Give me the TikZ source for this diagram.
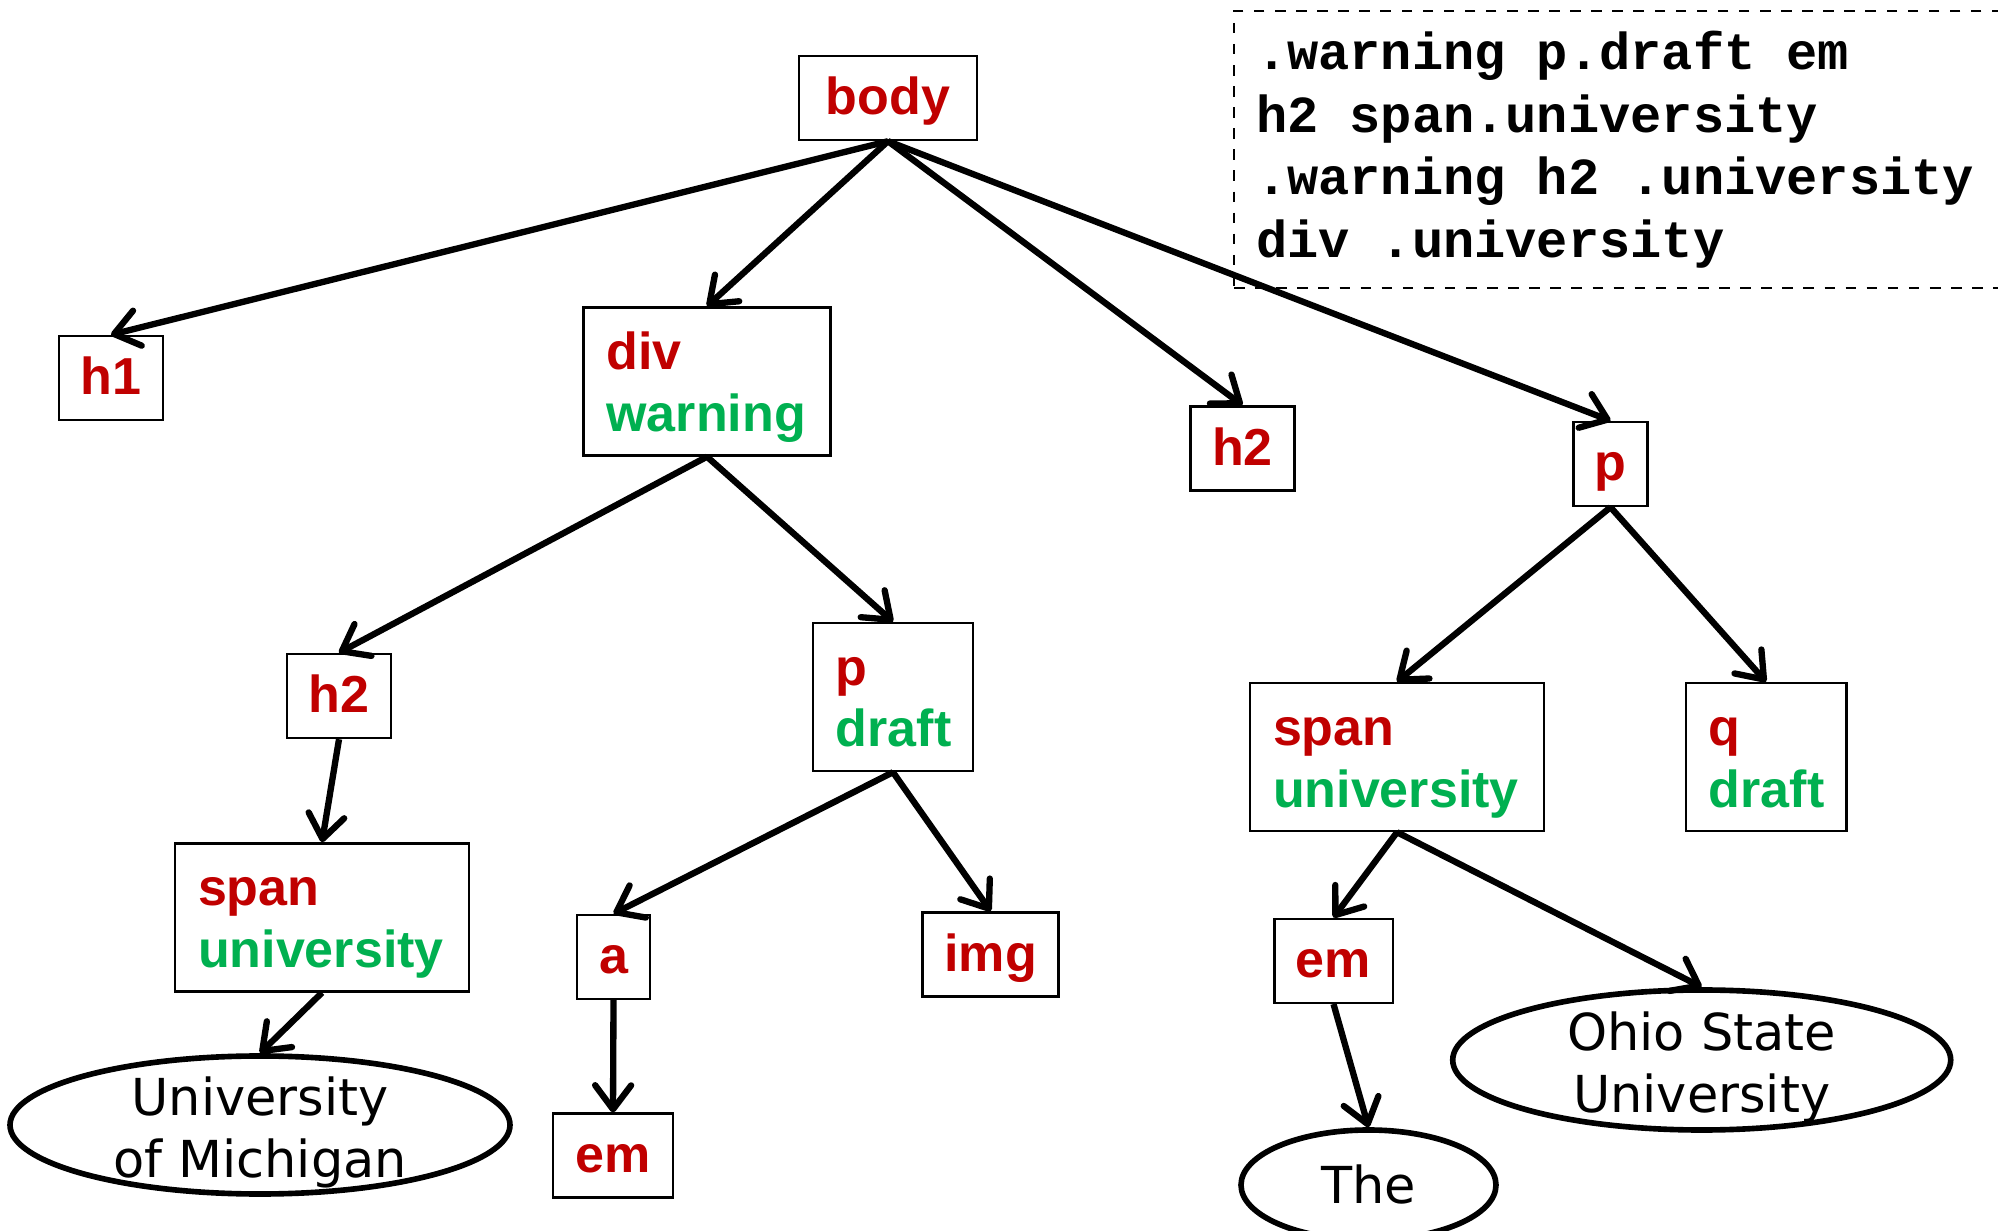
\documentclass[tikz,border=0pt]{standalone}
\usepackage{fontspec}
\setsansfont{Liberation Sans}
\setmonofont{Liberation Mono}
\newfontfamily\leaffont{DejaVu Sans}
\usetikzlibrary{arrows.meta}
\usetikzlibrary{shapes.geometric}
\definecolor{tagRed}{HTML}{C00000}
\definecolor{classGreen}{HTML}{00B050}
\newcommand{\tg}[1]{\textcolor{tagRed}{#1}}
\newcommand{\cls}[1]{\textcolor{classGreen}{#1}}
\newcommand{\gap}{\hphantom{x}}
\tikzset{%
  >={Straight Barb[round,length=2.4mm,width=3.6mm]},
  % Specifications for style of nodes:
        base/.style = {rectangle, draw=black, line width=0.7pt,
                       minimum height=0.84cm, inner sep=0pt,
                       font=\sffamily\bfseries\fontsize{14.8}{17.5}\selectfont},
         tag/.style = {base, text=tagRed, text height=0.34cm, text depth=0cm},
    tagClass/.style = {base, minimum height=1.48cm, inner xsep=0.23cm,
                       align=left, text height=0.383cm, text depth=0.613cm},
        leaf/.style = {ellipse, draw=black, line width=1.6pt,
                       inner xsep=0pt, inner ysep=-2mm, align=center,
                       text height=1.046cm, text depth=0cm,
                       font=\leaffont\fontsize{14.5}{17.7}\selectfont},
    selector/.style = {rectangle, draw=black, dashed, line width=0.6pt,
                       inner xsep=0.22cm, align=left,
                       font=\ttfamily\bfseries\fontsize{14.8}{17.8}\selectfont},
      branch/.style = {->, line width=1.8pt},
}

\begin{document}
\begin{tikzpicture}
  \useasboundingbox (0,0) rectangle (19.98,-12.31);
  % Specification of nodes (position, etc.)

  \node (selectorList) [selector, anchor=north west, minimum height=2.77cm,
        text width=7.5cm] at (12.33,-0.10)
        {.warning\gap p.draft\gap em\\h2\gap span.university\\
         .warning\gap h2\gap .university\\div\gap .university};

  \node (bodyTag)     [tag, minimum width=1.78cm] at (8.88,-0.98) {body};
  \node (h1Tag)       [tag, minimum width=1.04cm] at (1.11,-3.78) {h1};
  \node (divWarning)  [tagClass, text width=2.01cm] at (7.07,-3.815) {\tg{div}\\\cls{warning}};
  \node (h2TopTag)    [tag, minimum width=1.04cm] at (12.425,-4.485) {h2};
  \node (pTag)        [tag, minimum width=0.74cm] at (16.105,-4.64) {p};

  \node (h2LowTag)    [tag, minimum width=1.04cm] at (3.39,-6.96) {h2};
  \node (pDraft)      [tagClass, text width=1.145cm] at (8.93,-6.97) {\tg{p}\\\cls{draft}};
  \node (spanUnivR)   [tagClass, text width=2.48cm] at (13.97,-7.57) {\tg{span}\\\cls{university}};
  \node (qDraft)      [tagClass, text width=1.145cm] at (17.66,-7.57) {\tg{q}\\\cls{draft}};

  \node (spanUnivL)   [tagClass, text width=2.48cm] at (3.22,-9.174) {\tg{span}\\\cls{university}};
  \node (aTag)        [tag, minimum width=0.73cm] at (6.135,-9.57) {a};
  \node (imgTag)      [tag, minimum width=1.36cm] at (9.907,-9.544) {img};
  \node (emRightTag)  [tag, minimum width=1.185cm] at (13.335,-9.608) {em};
  \node (emBottomTag) [tag, minimum width=1.2cm] at (6.13,-11.557) {em};

  \node (ohioLeaf)    [leaf, minimum width=4.98cm, minimum height=1.40cm] at (17.017,-10.60) {Ohio State\\University};
  \node (michLeaf)    [leaf, minimum width=5.0cm, minimum height=1.38cm] at (2.60,-11.25) {University\\of Michigan};
  \node (theLeaf)     [leaf, text height=0.377cm, minimum width=2.55cm, minimum height=1.1cm] at (13.685,-11.85) {The};

  % Specification of arrows between nodes specified above
  \draw[branch] (bodyTag.south) -- (h1Tag.north);
  \draw[branch] (bodyTag.south) -- (divWarning.north);
  \draw[branch] (bodyTag.south) -- (h2TopTag.north);
  \draw[branch] (bodyTag.south) -- (pTag.north);

  \draw[branch] (divWarning.south) -- (h2LowTag.north);
  \draw[branch] (divWarning.south) -- (pDraft.north);
  \draw[branch] (h2LowTag.south) -- (spanUnivL.north);
  \draw[branch] (spanUnivL.south) -- (michLeaf.north);

  \draw[branch] (pDraft.south) -- (aTag.north);
  \draw[branch] (pDraft.south) -- (imgTag.north);
  \draw[branch] (aTag.south) -- (emBottomTag.north);

  \draw[branch] (pTag.south) -- (spanUnivR.north);
  \draw[branch] (pTag.south) -- (qDraft.north);
  \draw[branch] (spanUnivR.south) -- (emRightTag.north);
  \draw[branch] (spanUnivR.south) -- (ohioLeaf.north);
  \draw[branch] (emRightTag.south) -- (theLeaf.north);

\end{tikzpicture}
\end{document}
